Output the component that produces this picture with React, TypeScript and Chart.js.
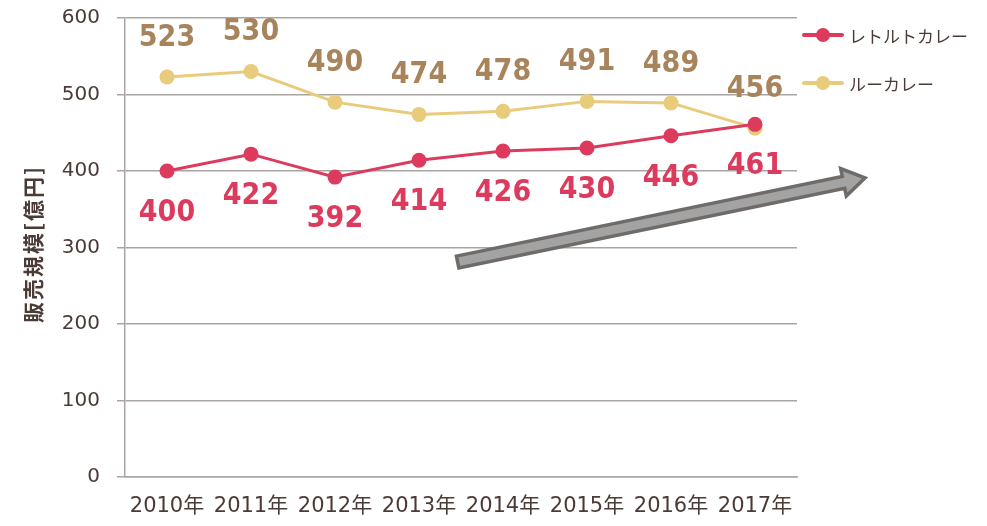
import React, { useEffect, useRef } from "react";
import { Chart, registerables } from "chart.js";

Chart.register(...registerables);

const categories = ["2010年", "2011年", "2012年", "2013年", "2014年", "2015年", "2016年", "2017年"];
const retortValues = [400, 422, 392, 414, 426, 430, 446, 461];
const rouxValues = [523, 530, 490, 474, 478, 491, 489, 456];
const seriesNames = ["レトルトカレー", "ルーカレー"];
const yTicks = [0, 100, 200, 300, 400, 500, 600];
const yTitle = "販売規模[億円]";
// trend arrow anchors in data space: [category index, value]
const arrowStart = [3.46, 281];
const arrowEnd = [8.31, 391];

const RED = "#dc3b5e";
const TAN = "#e9cb7c";
const TAN_LABEL = "#a8845c";
const TEXT = "#4b3b36";
const GRID = "#aaa5a2";

const overlayPlugin = {
  id: "overlay",
  afterDatasetsDraw(chart: any) {
    const ctx = chart.ctx;
    const xs = chart.scales.x;
    const ys = chart.scales.y;
    // data labels
    ctx.save();
    ctx.font = "bold 30px 'DejaVu Sans Condensed', 'DejaVu Sans'";
    ctx.textAlign = "center";
    ctx.textBaseline = "middle";
    chart.data.datasets.forEach((ds: any, di: number) => {
      const meta = chart.getDatasetMeta(di);
      meta.data.forEach((pt: any, i: number) => {
        const v = ds.data[i];
        ctx.fillStyle = di === 0 ? RED : TAN_LABEL;
        const dy = di === 0 ? 42 : -39;
        ctx.fillText(String(v), pt.x, pt.y + dy);
      });
    });
    ctx.restore();

    // arrow
    const x1 = xs.getPixelForValue(arrowStart[0]);
    const y1 = ys.getPixelForValue(arrowStart[1]);
    const x2 = xs.getPixelForValue(arrowEnd[0]);
    const y2 = ys.getPixelForValue(arrowEnd[1]);
    const ang = Math.atan2(y2 - y1, x2 - x1);
    const len = Math.hypot(x2 - x1, y2 - y1);
    const shaftHalf = 6;
    const headLen = 22;
    const headHalf = 14;
    ctx.save();
    ctx.translate(x1, y1);
    ctx.rotate(ang);
    ctx.beginPath();
    ctx.moveTo(0, -shaftHalf);
    ctx.lineTo(len - headLen, -shaftHalf);
    ctx.lineTo(len - headLen, -headHalf);
    ctx.lineTo(len, 0);
    ctx.lineTo(len - headLen, headHalf);
    ctx.lineTo(len - headLen, shaftHalf);
    ctx.lineTo(0, shaftHalf);
    ctx.closePath();
    ctx.fillStyle = "#a3a3a3";
    ctx.fill();
    ctx.lineWidth = 3.5;
    ctx.lineJoin = "miter";
    ctx.strokeStyle = "#6f6b69";
    ctx.stroke();
    ctx.restore();

    // y title
    ctx.save();
    ctx.translate(33, 244);
    ctx.rotate(-Math.PI / 2);
    ctx.font = "bold 21px 'Noto Sans CJK JP'";
    ctx.fillStyle = TEXT;
    ctx.textAlign = "center";
    ctx.textBaseline = "middle";
    (ctx as any).letterSpacing = "2px";
    ctx.fillText(yTitle, 0, 0);
    ctx.restore();
  },
};

function App() {
  const ref = useRef<HTMLCanvasElement | null>(null);
  useEffect(() => {
    if (!ref.current) return;
    const chart = new Chart(ref.current, {
      type: "line",
      data: {
        labels: categories,
        datasets: [
          {
            label: seriesNames[0],
            data: retortValues,
            borderColor: RED,
            backgroundColor: RED,
            borderWidth: 3,
            pointRadius: 7.5,
            pointBorderWidth: 0,
            pointBackgroundColor: RED,
          },
          {
            label: seriesNames[1],
            data: rouxValues,
            borderColor: TAN,
            backgroundColor: TAN,
            borderWidth: 3,
            pointRadius: 7.5,
            pointBorderWidth: 0,
            pointBackgroundColor: TAN,
          },
        ],
      },
      options: {
        responsive: false,
        animation: false,
        layout: { padding: { left: 0, right: 190, top: 18, bottom: 0 } },
        plugins: { legend: { display: false }, tooltip: { enabled: false } },
        scales: {
          x: {
            offset: true,
            grid: { display: false },
            border: { display: true, color: GRID, width: 1.5 },
            afterFit: (scale: any) => {
              scale.height = 49;
              scale.paddingLeft = 0;
              scale.paddingRight = 0;
            },
            ticks: {
              color: TEXT,
              font: { size: 21, family: "'DejaVu Sans', 'Noto Sans CJK JP'" },
              padding: 9,
              maxRotation: 0,
              autoSkip: false,
            },
          },
          y: {
            min: 0,
            max: 600,
            afterBuildTicks: (axis: any) => {
              axis.ticks = yTicks.map((v) => ({ value: v }));
            },
            afterFit: (scale: any) => {
              scale.width = 125;
              scale.paddingTop = 0;
              scale.paddingBottom = 0;
            },
            grid: { color: GRID, lineWidth: 1.5, tickLength: 8 },
            border: { display: true, color: GRID, width: 1.5 },
            ticks: {
              color: TEXT,
              font: { size: 20, family: "'DejaVu Sans'" },
              padding: 17,
            },
          },
        },
      },
      plugins: [overlayPlugin],
    });
    return () => chart.destroy();
  }, []);

  const legendItem = (color: string, text: string, top: number) => (
    <div style={{ position: "absolute", left: 802, top: top - 15, height: 30, display: "flex", alignItems: "center" }}>
      <div style={{ position: "relative", width: 42, height: 30 }}>
        <div style={{ position: "absolute", left: 0, top: 13, width: 42, height: 4, background: color, borderRadius: 2 }} />
        <div style={{ position: "absolute", left: 14, top: 8, width: 14, height: 14, background: color, borderRadius: "50%" }} />
      </div>
      <span style={{ marginLeft: 5, fontFamily: "'Noto Sans CJK JP'", fontSize: 17, color: TEXT, whiteSpace: "nowrap" }}>{text}</span>
    </div>
  );

  return (
    <div style={{ position: "fixed", left: 0, top: 0, width: 987, height: 526, background: "#fff" }}>
      <canvas ref={ref} width={987} height={526} style={{ position: "absolute", left: 0, top: 0 }} />
      {legendItem(RED, seriesNames[0], 35)}
      {legendItem(TAN, seriesNames[1], 83)}
    </div>
  );
}

export default App;
